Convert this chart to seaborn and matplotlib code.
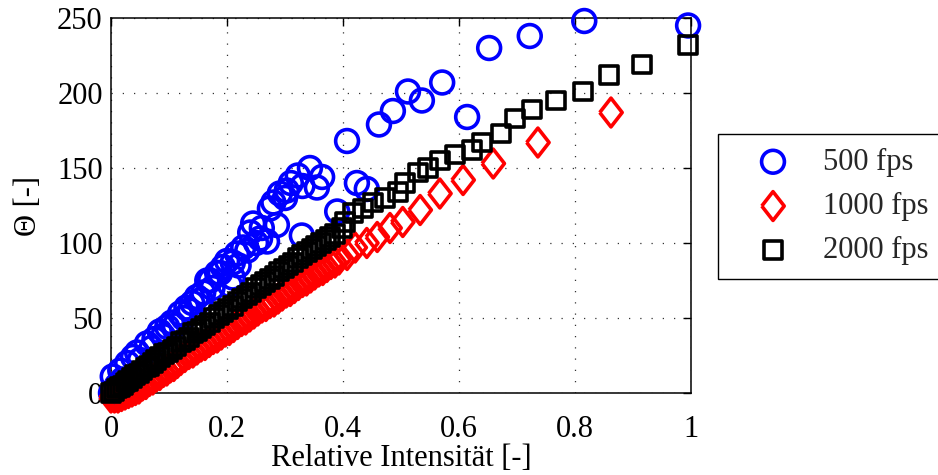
import matplotlib
matplotlib.use("Agg")
import matplotlib.pyplot as plt
import seaborn as sns
import pandas as pd

# ---- data ----
series_names = ["500 fps", "1000 fps", "2000 fps"]

blue_x = [0.000, 0.003, 0.010, 0.016, 0.020, 0.028, 0.038, 0.045, 0.050, 0.062,
          0.070, 0.075, 0.084, 0.090, 0.097, 0.105, 0.110, 0.119, 0.125, 0.130,
          0.136, 0.140, 0.148, 0.155, 0.159, 0.166, 0.171, 0.175, 0.183, 0.188,
          0.193, 0.200, 0.205, 0.210, 0.210, 0.217, 0.220, 0.228, 0.235, 0.240,
          0.245, 0.250, 0.257, 0.260, 0.269, 0.274, 0.280, 0.286, 0.291, 0.300,
          0.303, 0.310, 0.322, 0.329, 0.330, 0.343, 0.355, 0.364, 0.390, 0.407,
          0.424, 0.441, 0.462, 0.486, 0.512, 0.536, 0.571, 0.614, 0.652, 0.722,
          0.816, 0.995]
blue_y = [0, 11, 5, 15, 9, 20, 24, 27, 22, 33,
          30, 36, 41, 38, 44, 47, 45, 53, 50, 57,
          55, 60, 64, 62, 67, 75, 75, 70, 80, 80,
          84, 88, 72, 77, 87, 93, 85, 97, 95, 107,
          113, 100, 103, 110, 101, 123, 127, 112, 133, 130,
          135, 140, 145, 105, 138, 150, 137, 144, 121, 168,
          140, 136, 179, 188, 201, 195, 207, 184, 230, 238,
          248, 245]

red_x = [0.000, 0.006, 0.012, 0.018, 0.024, 0.030, 0.036, 0.042, 0.048, 0.054,
         0.060, 0.066, 0.072, 0.078, 0.084, 0.090, 0.096, 0.102, 0.108, 0.114,
         0.120, 0.127, 0.134, 0.141, 0.148, 0.155, 0.162, 0.169, 0.176, 0.183,
         0.190, 0.197, 0.204, 0.211, 0.218, 0.225, 0.232, 0.239, 0.246, 0.253,
         0.260, 0.267, 0.274, 0.281, 0.288, 0.295, 0.302, 0.309, 0.316, 0.323,
         0.330, 0.337, 0.344, 0.351, 0.358, 0.365, 0.372, 0.379, 0.386, 0.393,
         0.407, 0.421, 0.441, 0.459, 0.481, 0.503, 0.533, 0.567, 0.607, 0.659,
         0.736, 0.862]
red_y = [-3, -3, -3, -2, -1, 0, 1, 2, 3, 5,
         6, 8, 9, 11, 12, 14, 15, 17, 18, 20,
         22, 24, 26, 27, 29, 31, 32, 34, 36, 37,
         39, 41, 42, 44, 46, 48, 49, 51, 53, 55,
         57, 58, 60, 61, 63, 65, 67, 68, 70, 72,
         74, 75, 77, 79, 81, 82, 84, 86, 87, 89,
         92, 97, 100, 104, 110, 114, 122, 133, 142, 153,
         167, 187]

black_x = [0.000, 0.005, 0.010, 0.015, 0.020, 0.025, 0.030, 0.036, 0.042, 0.048,
           0.054, 0.060, 0.066, 0.072, 0.078, 0.085, 0.092, 0.099, 0.106, 0.113,
           0.120, 0.127, 0.134, 0.141, 0.148, 0.155, 0.162, 0.170, 0.178, 0.186,
           0.194, 0.202, 0.210, 0.218, 0.226, 0.234, 0.242, 0.250, 0.258, 0.266,
           0.274, 0.282, 0.290, 0.298, 0.306, 0.314, 0.322, 0.330, 0.338, 0.346,
           0.354, 0.362, 0.370, 0.378, 0.386, 0.398, 0.403, 0.417, 0.434, 0.452,
           0.472, 0.495, 0.507, 0.529, 0.547, 0.567, 0.593, 0.622, 0.640, 0.672,
           0.697, 0.726, 0.767, 0.814, 0.859, 0.916, 0.995]
black_y = [0, 1, 3, 4, 5, 7, 8, 10, 12, 13,
           15, 17, 18, 20, 22, 24, 26, 27, 29, 31,
           34, 35, 37, 40, 41, 43, 45, 47, 50, 52,
           54, 56, 58, 61, 63, 65, 67, 70, 72, 74,
           76, 78, 81, 83, 85, 87, 90, 92, 94, 96,
           98, 100, 102, 104, 106, 110, 114, 120, 123, 127,
           130, 134, 140, 147, 150, 155, 159, 162, 167, 173,
           183, 189, 195, 201, 212, 219, 232]

x_ticks = [0, 0.2, 0.4, 0.6, 0.8, 1]
x_tick_labels = ["0", "0.2", "0.4", "0.6", "0.8", "1"]
y_ticks = [0, 50, 100, 150, 200, 250]

# ---- style ----
sns.set_theme(style="white")
plt.rcParams["font.family"] = ["Liberation Serif", "DejaVu Serif"]
FS = 22

diamond = [(-0.39, 0.0), (0.0, 0.5), (0.39, 0.0), (0.0, -0.5), (-0.39, 0.0)]

fig = plt.figure(figsize=(9.38, 4.75), dpi=100)
ax = fig.add_axes([111 / 938, 1 - 393 / 475, 580 / 938, 375 / 475])

styles = [
    (blue_x, blue_y, "#0000ff", "o", 270),
    (red_x, red_y, "#ff0000", diamond, 430),
    (black_x, black_y, "#000000", "s", 165),
]
handles = []
for name, (xs, ys, col, mk, size) in zip(series_names, styles):
    df = pd.DataFrame({"x": xs, "y": ys})
    sns.scatterplot(data=df, x="x", y="y", ax=ax, marker=mk, s=size,
                    facecolor="none", edgecolor=col, linewidth=2.6,
                    clip_on=False, zorder=3, label=name, legend=False)
    handles.append(ax.collections[-1])

ax.set_xlim(0, 1)
ax.set_ylim(0, 250)
ax.set_xticks(x_ticks)
ax.set_xticklabels(x_tick_labels)
ax.set_yticks(y_ticks)
ax.grid(True, color="#333333", linestyle=(0, (1, 8)), linewidth=0.9)
ax.set_axisbelow(True)
for sp in ax.spines.values():
    sp.set_visible(True)
    sp.set_color("black")
    sp.set_linewidth(1.1)
ax.tick_params(direction="in", length=6, width=1, top=True, right=True,
               labelsize=FS, colors="black", pad=16)
ax.tick_params(axis="y", pad=6)
ax.set_xlabel("Relative Intensität [-]", fontsize=FS, color="black", labelpad=0)
ax.set_ylabel("Θ [-]", fontsize=FS, color="black", labelpad=10)

leg = fig.legend(handles=handles, labels=series_names, loc="upper left",
                 bbox_to_anchor=(718 / 938, 1 - 134 / 475),
                 fontsize=FS, frameon=True, fancybox=False, framealpha=1,
                 edgecolor="black", handletextpad=0.3, labelspacing=0.5,
                 borderpad=0.45, handlelength=2.7, borderaxespad=0)
leg.get_frame().set_linewidth(1.0)

fig.savefig("out.png", dpi=100)
